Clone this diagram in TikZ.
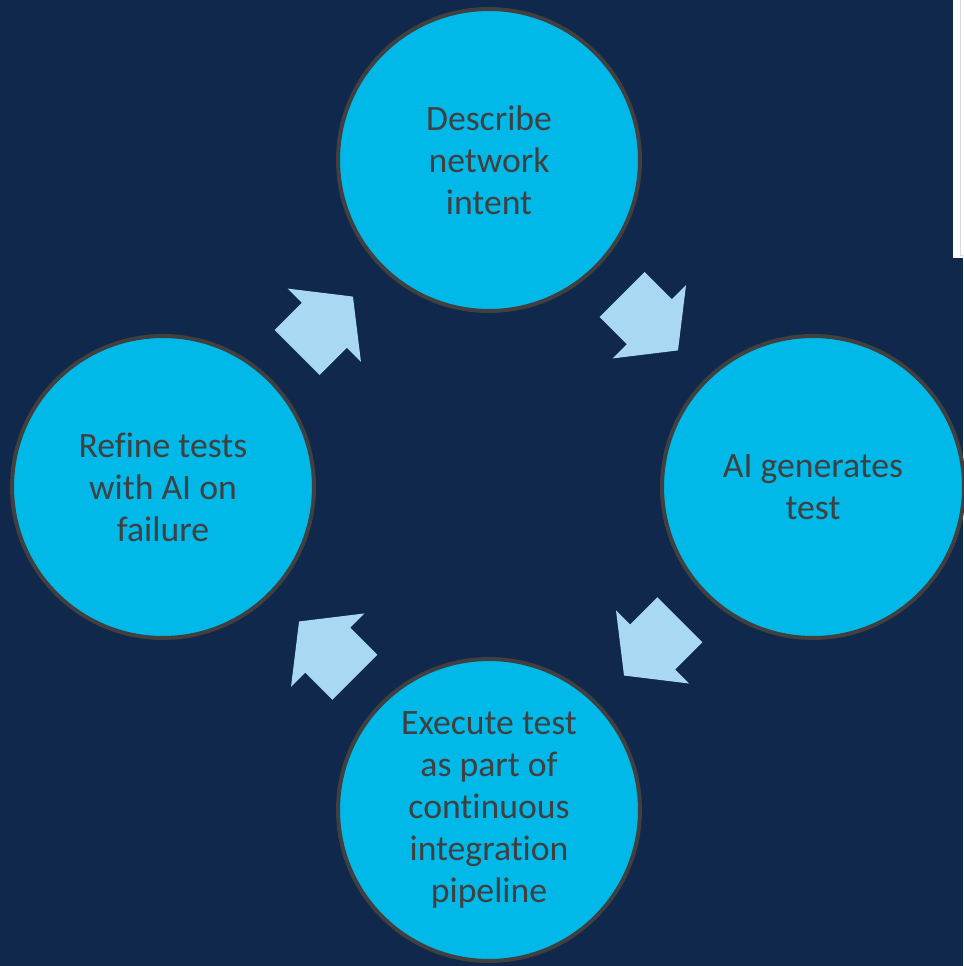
\documentclass[tikz,border=0pt]{standalone}
\usepackage{fontspec}
\setmainfont{Carlito}[Ligatures=NoCommon]
\usetikzlibrary{shapes.arrows}
\usetikzlibrary{calc}
\definecolor{navy}{HTML}{0F284B}
\definecolor{cyanfill}{HTML}{00B9E8}
\definecolor{rimgray}{HTML}{404040}
\definecolor{arrowblue}{HTML}{A9D9F2}

\begin{document}
\begin{tikzpicture}[x=0.02cm, y=-0.02cm,
    stage/.style={circle, draw=rimgray, line width=0.08cm, fill=cyanfill,
      minimum size=6.04cm, inner sep=0pt, align=center, text=rimgray,
      font=\fontsize{20.3}{23.9}\selectfont},
    flow/.style={single arrow, fill=arrowblue, draw=none, minimum height=1.58cm,
      minimum width=0pt, inner xsep=0pt, inner ysep=0.63cm,
      single arrow head extend=0.4cm, single arrow tip angle=104}]
      \fill[navy] (0,0) rectangle (963,966);
      \useasboundingbox (0,0) rectangle (963,966);
      \fill[white] (953,0) rectangle (963,258);
      \draw[gray!30, line width=0.5pt] (960,0) -- (960,255) -- (963,255);

      \node[stage] (intent) at (489,160) {Describe\\network\\intent};
      \node[stage] (gen) at (813,487) {AI generates\\test};
      \node[stage] (exec) at (489,810)
      {Execute test\\as part of\\continuous\\integration\\pipeline};
      \node[stage] (refine) at (163,487) {Refine tests\\with AI on\\failure};

      \node[flow, rotate=-45] (a1) at ($(intent)!0.47!(gen)$) {};
      \node[flow, rotate=-135] (a2) at ($(gen)!0.47!(exec)$) {};
      \node[flow, rotate=135] (a3) at ($(exec)!0.47!(refine)$) {};
      \node[flow, rotate=45] (a4) at ($(refine)!0.47!(intent)$) {};
    \end{tikzpicture}
\end{document}
